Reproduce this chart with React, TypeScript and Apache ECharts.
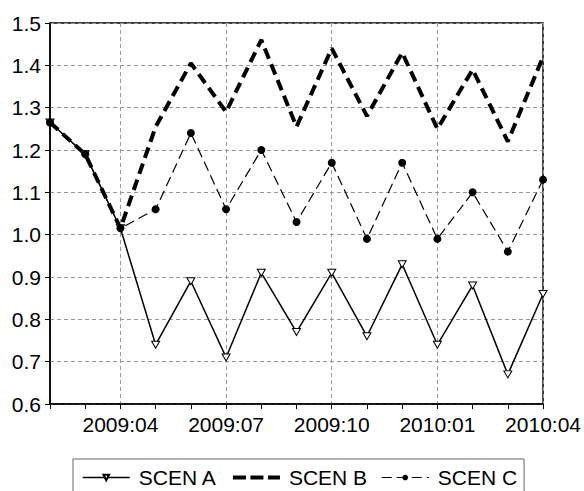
import React, { useEffect, useRef } from "react";
import * as echarts from "echarts";

const months = [
  "2009:02", "2009:03", "2009:04", "2009:05", "2009:06", "2009:07", "2009:08",
  "2009:09", "2009:10", "2009:11", "2009:12", "2010:01", "2010:02", "2010:03", "2010:04",
];
const scenA = [1.265, 1.19, 1.015, 0.74, 0.89, 0.71, 0.91, 0.77, 0.91, 0.76, 0.93, 0.74, 0.88, 0.67, 0.86];
const scenB = [1.265, 1.19, 1.015, 1.255, 1.405, 1.29, 1.46, 1.255, 1.44, 1.28, 1.43, 1.25, 1.39, 1.22, 1.42];
const scenC = [1.265, 1.19, 1.015, 1.06, 1.24, 1.06, 1.2, 1.03, 1.17, 0.99, 1.17, 0.99, 1.1, 0.96, 1.13];
const seriesNames = ["SCEN A", "SCEN B", "SCEN C"];

const FONT = "'Liberation Sans', Arial, sans-serif";
const FS = 21;

export default function App() {
  const ref = useRef<HTMLDivElement>(null);
  useEffect(() => {
    if (!ref.current) return;
    const chart = echarts.init(ref.current, undefined, { renderer: "svg" });
    const every3 = (i: number) => i % 3 === 2;
    chart.setOption({
      animation: false,
      backgroundColor: "#fff",
      textStyle: { fontFamily: FONT },
      grid: {
        left: 50,
        right: 40,
        top: 23,
        bottom: 87,
        show: true,
        borderColor: "#000",
        borderWidth: 1.5,
        backgroundColor: "transparent",
      },
      legend: {
        left: 73,
        top: 459,
        padding: [8, 7, 40, 9],
        borderColor: "#666",
        borderWidth: 1,
        itemWidth: 47,
        itemHeight: 7,
        itemGap: 14,
        textStyle: { fontFamily: FONT, fontSize: FS, color: "#000", padding: [0, 0, 0, 4] },
        data: [
          {
            name: seriesNames[0],
            lineStyle: { width: 1.5, type: "solid", color: "#000" },
          },
          {
            name: seriesNames[1],
            itemStyle: { opacity: 0 },
            lineStyle: { width: 4, type: [13, 4.5], color: "#000", opacity: 1 },
          },
          {
            name: seriesNames[2],
            lineStyle: { width: 1.2, type: [10, 5], color: "#000" },
          },
        ],
      },
      xAxis: {
        type: "category",
        data: months,
        boundaryGap: false,
        axisLine: { lineStyle: { color: "#000", width: 1.5 } },
        axisTick: { show: true, inside: false, length: 5, interval: 0, lineStyle: { color: "#000" } },
        axisLabel: {
          interval: every3,
          color: "#000",
          fontSize: FS,
          fontFamily: FONT,
          margin: 10,
        },
        splitLine: {
          show: true,
          interval: every3,
          lineStyle: { color: "#999", type: [4, 3], width: 1 },
        },
      },
      yAxis: {
        type: "value",
        min: 0.6,
        max: 1.5,
        interval: 0.1,
        axisLine: { show: true, lineStyle: { color: "#000", width: 1.5 } },
        axisTick: { show: true, inside: false, length: 5, lineStyle: { color: "#000" } },
        axisLabel: {
          color: "#000",
          fontSize: FS,
          fontFamily: FONT,
          margin: 9,
          formatter: (v: number) => v.toFixed(1),
        },
        splitLine: { show: true, lineStyle: { color: "#999", type: [4, 3], width: 1 } },
      },
      series: [
        {
          name: seriesNames[0],
          type: "line",
          data: scenA,
          symbol: "triangle",
          symbolRotate: 180,
          symbolSize: [8, 7],
          showAllSymbol: true,
          itemStyle: { color: "#fff", borderColor: "#000", borderWidth: 1 },
          lineStyle: { color: "#000", width: 1.5, type: "solid" },
        },
        {
          name: seriesNames[1],
          type: "line",
          data: scenB,
          symbol: "none",
          itemStyle: { color: "#000" },
          lineStyle: { color: "#000", width: 4, type: [11, 6], cap: "butt" },
        },
        {
          name: seriesNames[2],
          type: "line",
          data: scenC,
          symbol: "circle",
          symbolSize: 8,
          showAllSymbol: true,
          itemStyle: { color: "#000", borderColor: "#000", borderWidth: 0 },
          lineStyle: { color: "#000", width: 1.2, type: [10, 5] },
        },
      ],
    });
    return () => chart.dispose();
  }, []);
  return (
    <div
      ref={ref}
      style={{ position: "fixed", left: 0, top: 0, width: 584, height: 491, background: "#fff" }}
    />
  );
}
